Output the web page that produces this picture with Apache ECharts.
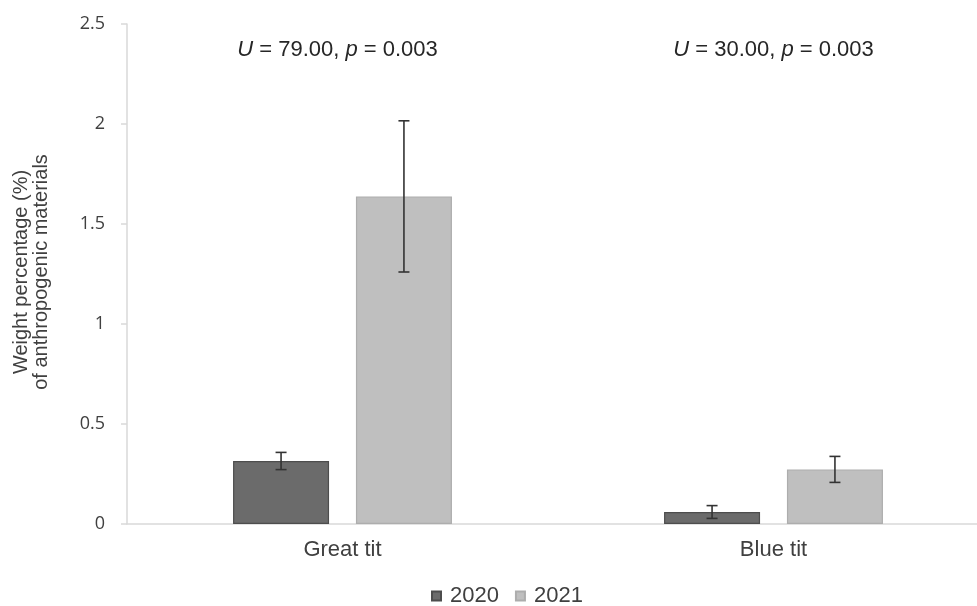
<!DOCTYPE html>
<html>
<head>
<meta charset="utf-8">
<script src="https://cdn.jsdelivr.net/npm/echarts@6/dist/echarts.min.js"></script>
<style>
  html, body { margin: 0; padding: 0; background: #ffffff; overflow: hidden; }
  #chart { width: 989px; height: 606px; }
</style>
</head>
<body>
<div id="chart"></div>
<script>
// Species compared, and the two breeding seasons
const species = ['Great tit', 'Blue tit'];
const years = ['2020', '2021'];

// Mean weight percentage of anthropogenic material per nest
const mean2020 = [0.315, 0.06];
const mean2021 = [1.638, 0.273];

// Standard error for each mean
const se2020 = [0.043, 0.032];
const se2021 = [0.378, 0.065];

// Mann-Whitney test results per species
const testU = ['79.00', '30.00'];
const testP = ['0.003', '0.003'];
const annotationY = 2.37;

const yTicks = { min: 0, max: 2.5, interval: 0.5 };

const BAR_W = 96;
const BAR_GAP = '28%';
const TXT = '#404040';
const SANS = 'Liberation Sans, Arial, sans-serif';

const chart = echarts.init(document.getElementById('chart'));

function errorSeries(name, means, errs, index) {
  const data = means.map((m, i) => [i, m - errs[i], m + errs[i]]);
  return {
    type: 'custom',
    name: name + ' error',
    silent: true,
    z: 10,
    data: data,
    renderItem: function (params, api) {
      const layout = api.barLayout({ count: 2, barWidth: BAR_W, barGap: BAR_GAP });
      const cat = api.value(0);
      const lo = api.coord([cat, api.value(1)]);
      const hi = api.coord([cat, api.value(2)]);
      const x = lo[0] + layout[index].offsetCenter;
      const cap = 5.5;
      const style = { stroke: '#333333', lineWidth: 1.6 };
      return {
        type: 'group',
        children: [
          { type: 'line', shape: { x1: x, y1: lo[1], x2: x, y2: hi[1] }, style: style },
          { type: 'line', shape: { x1: x - cap, y1: hi[1], x2: x + cap, y2: hi[1] }, style: style },
          { type: 'line', shape: { x1: x - cap, y1: lo[1], x2: x + cap, y2: lo[1] }, style: style }
        ]
      };
    }
  };
}

const option = {
  animation: false,
  backgroundColor: '#ffffff',
  textStyle: { fontFamily: SANS },
  grid: { left: 127, top: 24, bottom: 82, right: 0, containLabel: false },
  legend: {
    data: years,
    bottom: -6,
    left: 426,
    icon: 'rect',
    itemWidth: 9,
    itemHeight: 9,
    itemGap: 16,
    textStyle: { fontSize: 22, color: TXT, fontFamily: SANS, padding: [0, 0, 0, 4] }
  },
  xAxis: {
    type: 'category',
    data: species,
    axisLine: { show: true, lineStyle: { color: '#d9d9d9', width: 1.5 } },
    axisTick: { show: false },
    axisLabel: { fontSize: 22, color: TXT, margin: 15, fontFamily: SANS }
  },
  yAxis: {
    type: 'value',
    min: yTicks.min,
    max: yTicks.max,
    interval: yTicks.interval,
    splitLine: { show: false },
    axisLine: { show: true, lineStyle: { color: '#d9d9d9', width: 1.5 } },
    axisTick: { show: true, length: 6, lineStyle: { color: '#d9d9d9', width: 1.5 } },
    axisLabel: { fontSize: 18, color: TXT, margin: 22, fontFamily: 'Open Sans, sans-serif' }
  },
  series: [
    {
      name: years[0],
      type: 'bar',
      data: mean2020,
      barWidth: BAR_W,
      barGap: BAR_GAP,
      itemStyle: { color: '#6b6b6b', borderColor: '#4d4d4d', borderWidth: 1.2 }
    },
    {
      name: years[1],
      type: 'bar',
      data: mean2021,
      barWidth: BAR_W,
      barGap: BAR_GAP,
      itemStyle: { color: '#bfbfbf', borderColor: '#adadad', borderWidth: 1.2 }
    },
    errorSeries(years[0], mean2020, se2020, 0),
    errorSeries(years[1], mean2021, se2021, 1)
  ]
};

chart.setOption(option);

// Test statistics above each species group, plus the rotated y-axis title
const annotationShift = [-5, 0];
const graphics = species.map((s, i) => {
  const pt = chart.convertToPixel({ gridIndex: 0 }, [i, annotationY]);
  return {
    type: 'text',
    x: pt[0] + annotationShift[i],
    y: pt[1],
    style: {
      text: '{i|U} = ' + testU[i] + ', {i|p} = ' + testP[i],
      align: 'center',
      verticalAlign: 'middle',
      fill: '#262626',
      fontSize: 22,
      fontFamily: SANS,
      rich: {
        i: { fontStyle: 'italic', fontSize: 22, fill: '#262626', fontFamily: SANS }
      }
    }
  };
});

graphics.push({
  type: 'text',
  x: 31,
  y: 272,
  rotation: Math.PI / 2,
  style: {
    text: 'Weight percentage (%)\nof anthropogenic materials',
    align: 'center',
    verticalAlign: 'middle',
    fill: TXT,
    fontSize: 20,
    lineHeight: 20,
    fontFamily: SANS
  }
});

chart.setOption({ graphic: graphics });
</script>
</body>
</html>
